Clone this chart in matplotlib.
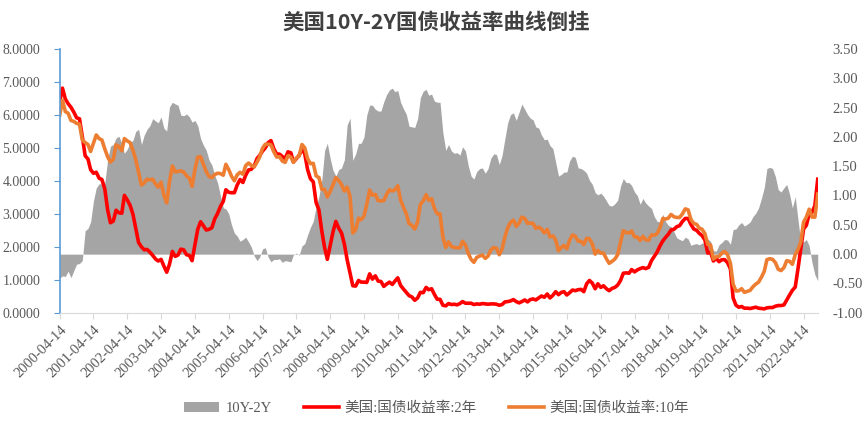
import numpy as np
import pandas as pd
import matplotlib
matplotlib.use("Agg")
import matplotlib.pyplot as plt
import matplotlib.dates as mdates
from matplotlib.patches import Patch
from matplotlib.lines import Line2D

# monthly values, 2000-04 .. 2022-09
y2 = [
    6.40, 6.81, 6.48, 6.34, 6.23, 6.08, 5.91, 5.88, 5.35,
    4.76, 4.66, 4.34, 4.23, 4.26, 4.08, 4.04, 3.76, 3.12, 2.73, 2.78, 3.11,
    3.03, 3.02, 3.56, 3.42, 3.26, 2.99, 2.56, 2.13, 2.00, 1.91, 1.92, 1.84,
    1.74, 1.63, 1.57, 1.62, 1.42, 1.23, 1.47, 1.86, 1.71, 1.75, 1.93, 1.91,
    1.76, 1.74, 1.58, 2.07, 2.53, 2.76, 2.64, 2.51, 2.53, 2.58, 2.85, 3.01,
    3.22, 3.38, 3.73, 3.65, 3.64, 3.64, 3.87, 4.04, 3.95, 4.17, 4.33, 4.35,
    4.45, 4.68, 4.77, 4.90, 5.00, 5.16, 5.22, 4.97, 4.81, 4.81, 4.74, 4.67,
    4.88, 4.85, 4.57, 4.67, 4.77, 4.96, 4.82, 4.34, 4.06, 3.97, 3.34, 3.12,
    2.48, 1.97, 1.62, 2.05, 2.45, 2.77, 2.57, 2.42, 2.08, 1.61, 1.21, 0.82,
    0.81, 0.98, 0.93, 0.93, 0.92, 1.18, 1.02, 1.12, 0.96, 0.95, 0.80, 0.87,
    0.93, 0.86, 0.96, 1.06, 0.83, 0.72, 0.62, 0.52, 0.48, 0.38, 0.45, 0.62,
    0.61, 0.77, 0.70, 0.73, 0.56, 0.41, 0.41, 0.23, 0.21, 0.28, 0.25, 0.26,
    0.24, 0.28, 0.34, 0.29, 0.29, 0.29, 0.25, 0.27, 0.26, 0.28, 0.27, 0.26,
    0.27, 0.27, 0.26, 0.23, 0.25, 0.33, 0.34, 0.36, 0.40, 0.34, 0.30, 0.34,
    0.39, 0.33, 0.40, 0.42, 0.39, 0.45, 0.51, 0.47, 0.57, 0.45, 0.53, 0.64,
    0.55, 0.62, 0.64, 0.54, 0.61, 0.69, 0.67, 0.70, 0.71, 0.64, 0.88, 0.98,
    0.90, 0.73, 0.88, 0.77, 0.82, 0.73, 0.67, 0.74, 0.77, 0.84, 0.98, 1.20,
    1.21, 1.20, 1.31, 1.24, 1.30, 1.34, 1.37, 1.34, 1.38, 1.58, 1.71, 1.84,
    2.03, 2.18, 2.28, 2.38, 2.51, 2.53, 2.61, 2.64, 2.77, 2.86, 2.86, 2.68,
    2.54, 2.50, 2.41, 2.34, 2.21, 1.81, 1.84, 1.57, 1.65, 1.55, 1.61, 1.61,
    1.52, 1.33, 0.45, 0.23, 0.17, 0.19, 0.14, 0.14, 0.13, 0.15, 0.17, 0.14,
    0.13, 0.12, 0.15, 0.16, 0.16, 0.20, 0.22, 0.22, 0.24, 0.39, 0.54, 0.68,
    0.78, 1.36, 1.91, 2.54, 2.65, 3.00, 3.04, 3.25, 4.05,
]

y10 = [
    5.99, 6.44, 6.10, 6.05, 5.83, 5.80, 5.74, 5.72, 5.24,
    5.16, 5.10, 4.89, 5.14, 5.39, 5.28, 5.24, 4.97, 4.73, 4.57, 4.65, 5.09,
    5.04, 4.91, 5.28, 5.21, 5.16, 4.93, 4.65, 4.26, 3.87, 3.94, 4.05, 4.03,
    4.05, 3.90, 3.81, 3.96, 3.57, 3.33, 3.98, 4.45, 4.27, 4.29, 4.30, 4.27,
    4.15, 4.08, 3.83, 4.35, 4.72, 4.73, 4.50, 4.28, 4.13, 4.10, 4.19, 4.23,
    4.22, 4.17, 4.50, 4.34, 4.14, 4.00, 4.18, 4.26, 4.20, 4.46, 4.54, 4.47,
    4.42, 4.57, 4.72, 4.99, 5.11, 5.11, 5.09, 4.88, 4.72, 4.73, 4.60, 4.56,
    4.76, 4.72, 4.56, 4.69, 4.75, 5.10, 5.00, 4.67, 4.52, 4.53, 4.15, 4.10,
    3.74, 3.74, 3.51, 3.68, 3.88, 4.10, 4.01, 3.89, 3.69, 3.81, 3.53, 2.42,
    2.52, 2.87, 2.82, 2.93, 3.29, 3.72, 3.56, 3.59, 3.40, 3.39, 3.40, 3.59,
    3.73, 3.69, 3.73, 3.85, 3.42, 3.20, 3.01, 2.70, 2.65, 2.54, 2.76, 3.29,
    3.39, 3.58, 3.41, 3.46, 3.17, 3.00, 3.00, 2.30, 1.98, 2.15, 2.01, 1.98,
    1.97, 1.97, 2.17, 2.05, 1.80, 1.62, 1.53, 1.68, 1.72, 1.75, 1.65, 1.72,
    1.91, 1.98, 1.96, 1.76, 1.93, 2.30, 2.58, 2.74, 2.81, 2.62, 2.72, 2.90,
    2.86, 2.71, 2.72, 2.71, 2.56, 2.60, 2.54, 2.42, 2.53, 2.30, 2.33, 2.21,
    1.88, 1.98, 2.04, 1.94, 2.20, 2.36, 2.32, 2.17, 2.17, 2.07, 2.26, 2.24,
    2.09, 1.78, 1.89, 1.81, 1.81, 1.64, 1.50, 1.56, 1.63, 1.76, 2.14, 2.49,
    2.43, 2.42, 2.48, 2.30, 2.30, 2.19, 2.32, 2.21, 2.20, 2.36, 2.35, 2.40,
    2.58, 2.86, 2.84, 2.87, 2.98, 2.91, 2.89, 2.89, 3.00, 3.15, 3.12, 2.83,
    2.71, 2.68, 2.57, 2.53, 2.40, 2.07, 2.06, 1.63, 1.70, 1.71, 1.81, 1.86,
    1.76, 1.50, 0.87, 0.66, 0.67, 0.73, 0.62, 0.65, 0.68, 0.79, 0.87, 0.93,
    1.08, 1.26, 1.61, 1.64, 1.62, 1.52, 1.32, 1.28, 1.37, 1.58, 1.56, 1.47,
    1.76, 1.93, 2.13, 2.75, 2.90, 3.14, 2.90, 2.90, 3.60,
]

dates = pd.date_range("2000-04-14", periods=len(y2), freq=pd.DateOffset(months=1))
tick_dates = pd.date_range("2000-04-14", "2022-04-14", freq=pd.DateOffset(years=1))

y2 = np.array(y2)
y10 = np.array(y10)
spread = y10 - y2

serif = ["Liberation Serif", "Noto Sans CJK SC"]
grey_txt = "#595959"

fig = plt.figure(figsize=(8.65, 4.25), dpi=100)
ax = fig.add_axes([0.069, 0.264, 0.877, 0.621])
ax2 = ax.twinx()

# spread area on the right axis, drawn behind the yield lines
ax2.fill_between(dates, 0, spread, color="#A5A5A5", linewidth=0)
ax.set_zorder(ax2.get_zorder() + 1)
ax.patch.set_visible(False)

ax.plot(dates, y2, color="#FF0000", lw=2.6)
ax.plot(dates, y10, color="#ED7D31", lw=2.6)

ax.set_xlim(dates[0], dates[-1] + pd.Timedelta(days=6))
ax.set_ylim(0, 8)
ax2.set_ylim(-1, 3.5)
ax.set_yticks(np.arange(0, 8.01, 1))
ax.set_yticklabels([f"{v:.4f}" for v in np.arange(0, 8.01, 1)])
ax2.set_yticks(np.arange(-1, 3.51, 0.5))
ax2.set_yticklabels([f"{v:.2f}" for v in np.arange(-1, 3.51, 0.5)])
ax.set_xticks(tick_dates)
ax.xaxis.set_major_formatter(mdates.DateFormatter("%Y-%m-%d"))

for a in (ax, ax2):
    for s in a.spines.values():
        s.set_visible(False)
ax.spines["left"].set_visible(True)
ax.spines["left"].set_color("#5B9BD5")
ax.spines["left"].set_linewidth(1.2)
ax.spines["bottom"].set_visible(True)
ax.spines["bottom"].set_color("#D9D9D9")

ax.tick_params(axis="y", colors=grey_txt, length=4, color="#5B9BD5", labelsize=10, pad=10)
ax.tick_params(axis="x", colors=grey_txt, length=4, color="#D9D9D9", labelsize=10.5)
ax2.tick_params(axis="y", colors=grey_txt, length=0, labelsize=10.5, pad=10)
for lab in ax.get_xticklabels():
    lab.set_rotation(45)
    lab.set_ha("right")
    lab.set_rotation_mode("anchor")
for lab in ax.get_xticklabels() + ax.get_yticklabels() + ax2.get_yticklabels():
    lab.set_family(serif)

fig.text(0.504, 0.948, "美国10Y-2Y国债收益率曲线倒挂", ha="center", va="center",
         fontsize=15.5, fontweight="bold", color="#404040", family=["Noto Sans CJK SC"])

handles = [
    Patch(facecolor="#A5A5A5", edgecolor="none"),
    Line2D([], [], color="#FF0000", lw=2.6),
    Line2D([], [], color="#ED7D31", lw=2.6),
]
labels = ["10Y-2Y", "美国:国债收益率:2年", "美国:国债收益率:10年"]
fig.legend(handles, labels, loc="center", bbox_to_anchor=(0.505, 0.04), ncol=3,
           frameon=False, handlelength=2.4, columnspacing=2.2, handletextpad=0.4,
           prop={"family": serif, "size": 10.5}, labelcolor=grey_txt)

fig.savefig("out.png", dpi=100)
